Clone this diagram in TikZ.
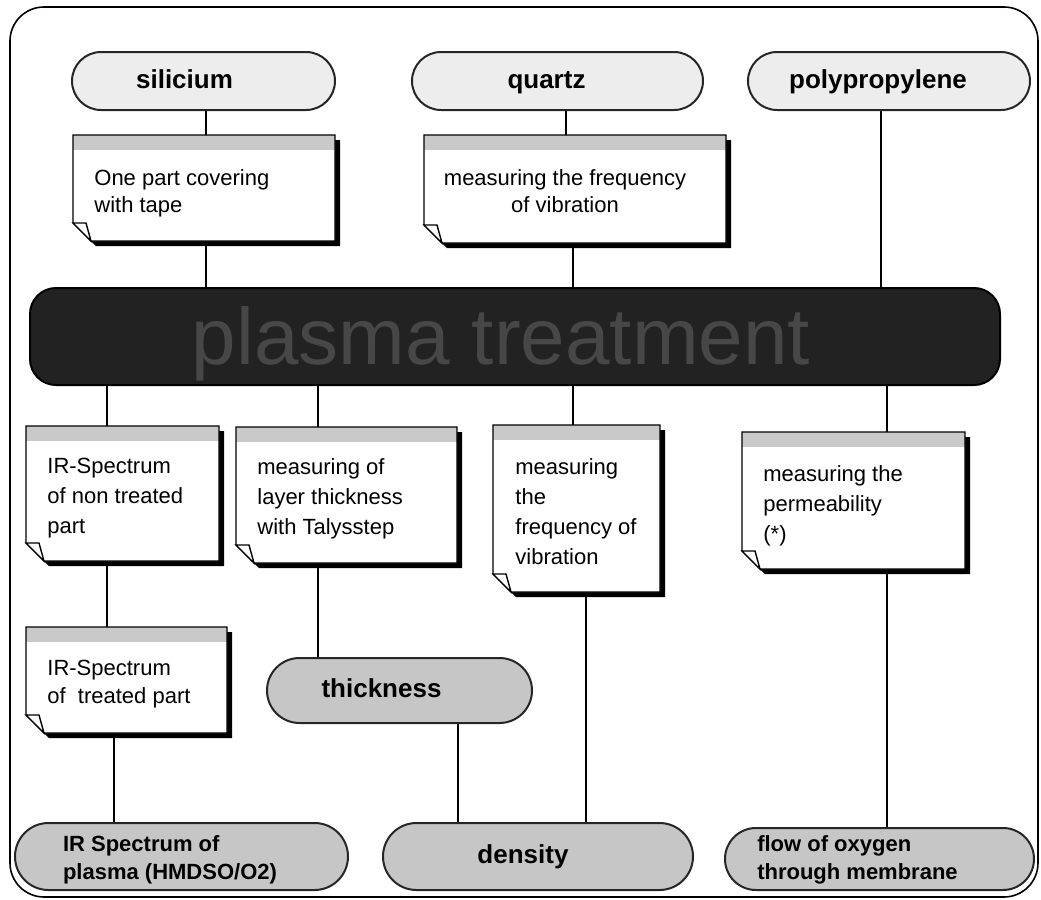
\documentclass[tikz,border=0pt]{standalone}
\usepackage{fontspec}
\setmainfont{Liberation Sans}
\usetikzlibrary{fit,shapes.misc}

\definecolor{capgray}{HTML}{EDEDED}
\definecolor{resgray}{HTML}{C6C6C6}
\definecolor{headgray}{HTML}{C9C9C9}
\definecolor{bargray}{HTML}{222222}
\definecolor{bartext}{HTML}{474747}

% note card: name, left, top, right, bottom (pixel units)
\newcommand\notecard[5]{%
  \fill[black] (#2+5,#3+5) -- (#4+5,#3+5) -- (#4+5,#5+5) -- (#2+23,#5+5) -- (#2+5,#5-13) -- cycle;
  \fill[white] (#2,#3) -- (#4,#3) -- (#4,#5) -- (#2+18,#5) -- (#2,#5-18) -- cycle;
  \fill[headgray] (#2,#3) rectangle (#4,#3+15);
  \draw[line width=0.7pt] (#2,#3) -- (#4,#3) -- (#4,#5) -- (#2+18,#5) -- (#2,#5-18) -- cycle;
  \filldraw[fill=white,line width=0.7pt] (#2,#5-18) -- (#2+13,#5-18) -- (#2+18,#5) -- cycle;
  \node[fit={(#2,#3) (#4,#5)}, inner sep=0pt] (#1) {};
}

\tikzset{
  stadium/.style={rounded rectangle, draw=black!85, line width=1pt, fill=capgray, inner sep=0pt},
  result/.style={stadium, fill=resgray},
  captxt/.style={font=\bfseries\fontsize{13}{15}\selectfont, inner sep=0pt, text height=10pt, text depth=3pt},
  restxt/.style={font=\bfseries\fontsize{11}{14}\selectfont, align=left, inner sep=0pt},
  notetxt/.style={font=\fontsize{11}{15}\selectfont, align=left, inner sep=0pt, anchor=north west},
  link/.style={line width=0.55pt},
}

\begin{document}
\begin{tikzpicture}[x=0.5pt,y=-0.5pt]
\useasboundingbox (0,0) rectangle (1041,900);
\draw[line width=0.8pt, rounded corners=17pt] (10,7) rectangle (1038,897);

% samples
\node[stadium, minimum width=131.5pt, minimum height=29pt,
  label={[captxt,xshift=-9.5pt]center:silicium}] (sil) at (203.5,81) {};
\node[stadium, minimum width=145.5pt, minimum height=29pt,
  label={[captxt,xshift=-5.5pt]center:quartz}] (qz) at (557.5,81) {};
\node[stadium, minimum width=141pt, minimum height=29pt,
  label={[captxt,xshift=-5.5pt]center:polypropylene}] (pp) at (889,81) {};

% preparation
\notecard{silnote}{73}{135}{335}{241}
\node[notetxt, font=\fontsize{11}{13.5}\selectfont] at (94,169) {One part covering\\with tape};
\notecard{qznote}{424}{135}{726}{243}
\node[notetxt, font=\fontsize{11}{13.5}\selectfont, anchor=north, align=center] at (565,169)
  {measuring the frequency\\of vibration};

% treatment
\draw[fill=bargray, line width=1pt, rounded corners=13pt] (30,288) rectangle (1000,385);
\node[inner sep=0pt, fit={(30,288) (1000,385)},
  label={[text=bartext, font=\fontsize{40}{40}\selectfont, xshift=-7pt, yshift=-3.5pt]center:plasma treatment}]
  (plasma) {};

% measurements
\notecard{irnon}{26}{426}{219}{561}
\node[notetxt] at (47,458) {IR-Spectrum\\of non treated\\part};
\notecard{talys}{236}{427}{457}{563}
\node[notetxt] at (257,458) {measuring of\\layer thickness\\with Talysstep};
\notecard{freq}{493}{425}{660}{592}
\node[notetxt] at (515,458) {measuring\\the\\frequency of\\vibration};
\notecard{perm}{742}{432}{965}{569}
\node[notetxt] at (763,465) {measuring the\\permeability\\(*)};
\notecard{irtreat}{26}{627}{227}{733}
\node[notetxt, font=\fontsize{11}{14}\selectfont] at (47,660) {IR-Spectrum\\of~~treated part};

% results
\node[result, minimum width=132.5pt, minimum height=32.5pt,
  label={[captxt,xshift=-9pt]center:thickness}] (thick) at (399.5,690.5) {};
\node[result, minimum width=166.5pt, minimum height=33.5pt,
  label={[restxt,xshift=-5.75pt,yshift=-1.5pt]center:IR Spectrum of\\plasma (HMDSO/O2)}] (irplasma) at (181.5,856.5) {};
\node[result, minimum width=155pt, minimum height=33.5pt,
  label={[captxt,xshift=-7.5pt]center:density}] (dens) at (538,856.5) {};
\node[result, minimum width=154.5pt, minimum height=31pt,
  label={[restxt,xshift=-11pt,yshift=-0.5pt]center:flow of oxygen\\through membrane}] (flow) at (879.5,859) {};

% columns of the connectors
\coordinate (k1) at (206,0);
\coordinate (k2) at (566,0);
\coordinate (k3) at (573,0);
\coordinate (k4) at (881,0);
\coordinate (k5) at (107,0);
\coordinate (k6) at (114,0);
\coordinate (k7) at (318,0);
\coordinate (k8) at (458,0);
\coordinate (k9) at (586,0);
\coordinate (k10) at (887,0);

\draw[link] (sil.south -| k1) -- (silnote.north -| k1);
\draw[link] ([yshift=-2.5pt]silnote.south -| k1) -- (plasma.north -| k1);
\draw[link] (qz.south -| k2) -- (qznote.north -| k2);
\draw[link] ([yshift=-2.5pt]qznote.south -| k3) -- (plasma.north -| k3);
\draw[link] (pp.south -| k4) -- (plasma.north -| k4);
\draw[link] (plasma.south -| k5) -- (irnon.north -| k5);
\draw[link] ([yshift=-2.5pt]irnon.south -| k5) -- (irtreat.north -| k5);
\draw[link] ([yshift=-2.5pt]irtreat.south -| k6) -- (irplasma.north -| k6);
\draw[link] (plasma.south -| k7) -- (talys.north -| k7);
\draw[link] ([yshift=-2.5pt]talys.south -| k7) -- (thick.north -| k7);
\draw[link] (thick.south -| k8) -- (dens.north -| k8);
\draw[link] (plasma.south -| k3) -- (freq.north -| k3);
\draw[link] ([yshift=-2.5pt]freq.south -| k9) -- (dens.north -| k9);
\draw[link] (plasma.south -| k10) -- (perm.north -| k10);
\draw[link] ([yshift=-2.5pt]perm.south -| k10) -- (flow.north -| k10);
\end{tikzpicture}
\end{document}
